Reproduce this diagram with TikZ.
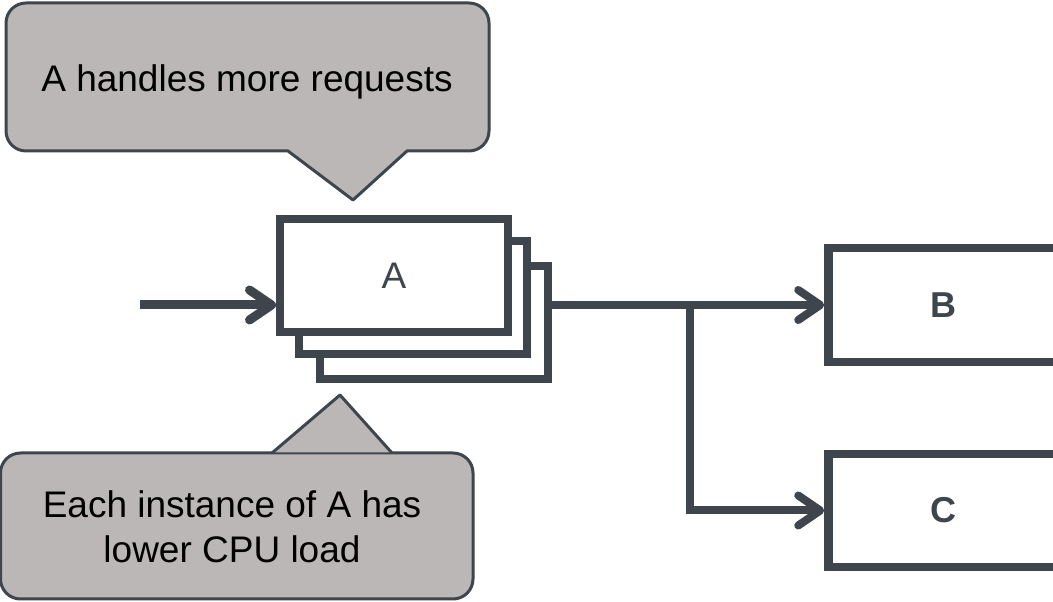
\documentclass[tikz,border=0pt]{standalone}
\usepackage{fontspec}
\setmainfont{Liberation Sans}
\usetikzlibrary{arrows.meta}
\definecolor{ink}{HTML}{3F454C}
\definecolor{notefill}{HTML}{BBB7B6}
\tikzset{
  svc/.style={draw=ink, fill=white, line width=8pt, inner sep=0pt,
    minimum width=228pt, minimum height=113pt, text=ink,
    font=\fontsize{37}{44}\selectfont},
  downstream/.style={svc, line width=8.5pt, minimum width=230pt,
    font=\fontsize{36}{44}\selectfont\bfseries},
  link/.style={draw=ink, line width=8pt,
    -{Straight Barb[length=22pt,width=30pt,round]}},
  note/.style={draw=ink, fill=notefill, line width=3pt, line join=round},
  notetext/.style={font=\fontsize{37}{40}\selectfont, text=black,
    align=center, inner sep=0pt}
}
\begin{document}
\begin{tikzpicture}[x=1pt,y=1pt]
\useasboundingbox (0,0) rectangle (1053,602);

% stacked instances of A (back to front)
\node[svc] (A3) at (433.5,279.5) {};
\node[svc] (A2) at (413,304) {};
\node[svc] (A1) at (394,326.5) {A};

% downstream services
\node[downstream, minimum height=114pt] (B) at (943.5,297) {B};
\node[downstream, minimum height=113pt] (C) at (943.5,91.5) {C};

% incoming request
\coordinate (in) at (140,297);
\draw[link, line width=9pt] (in) -- (in -| A1.west);

% fan-out to B and C
\coordinate (split) at (690,297);
\draw[link, -] (B.west -| A3.east) -- (split);
\draw[link] (split) -- (B.west);
\draw[link] (split) |- (C.west);

% callout above A
\draw[note] (26,599) -- (469,599) arc[start angle=90,end angle=0,radius=20]
  -- (489,471) arc[start angle=0,end angle=-90,radius=20]
  -- (407,451) -- (353,402) -- (288,451)
  -- (26,451) arc[start angle=270,end angle=180,radius=20]
  -- (6,579) arc[start angle=180,end angle=90,radius=20] -- cycle;
\node[notetext, anchor=base] (topnote) at (247,510.3) {A handles more requests};

% callout below A
\draw[note] (20.5,149) -- (453,149) arc[start angle=90,end angle=0,radius=20]
  -- (473,23) arc[start angle=0,end angle=-90,radius=20]
  -- (20.5,3) arc[start angle=270,end angle=180,radius=20]
  -- (0.5,129) arc[start angle=180,end angle=90,radius=20];
\fill[notefill] (272,149.5) -- (340,207) -- (392,149.5) -- cycle;
\draw[ink, line width=3pt, line join=round] (272,149) -- (340,207) -- (392,149);
\node[notetext, anchor=base] (botnote1) at (232,84.5) {Each instance of A has};
\node[notetext, anchor=base] (botnote2) at (232,39) {lower CPU load};
\end{tikzpicture}
\end{document}
